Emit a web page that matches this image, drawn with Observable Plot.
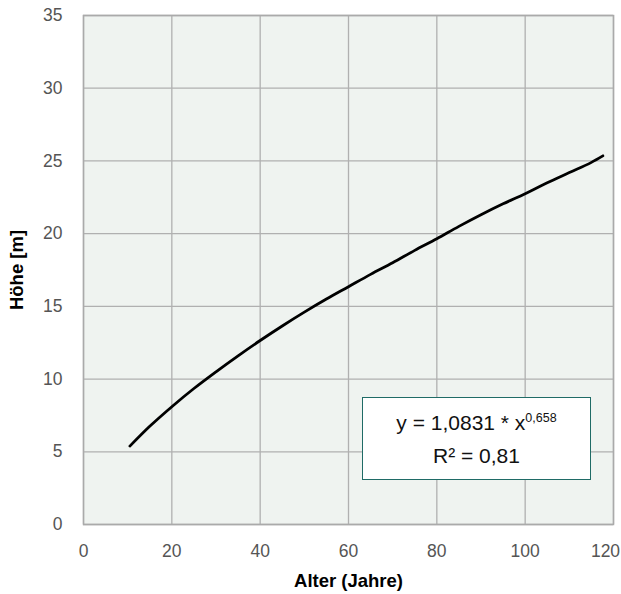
<!DOCTYPE html>
<html>
<head>
<meta charset="utf-8">
<script src="https://cdn.jsdelivr.net/npm/d3@7"></script>
<script src="https://cdn.jsdelivr.net/npm/@observablehq/plot@0.6"></script>
<style>
  html, body { margin: 0; padding: 0; background: #ffffff; }
  #wrap { position: relative; width: 621px; height: 594px; font-family: "Liberation Sans", Arial, Helvetica, sans-serif; }
  #eq {
    position: absolute; left: 362px; top: 397px; width: 227px; height: 81px;
    background: #ffffff; border: 1px solid #1f6b66;
    display: flex; flex-direction: column; align-items: center; justify-content: center;
    font-size: 21px; color: #111; line-height: 29px;
  }
  #eq sup { font-size: 12.5px; vertical-align: 0; position: relative; top: -8px; }
</style>
</head>
<body>
<div id="wrap"></div>
<script>
// Data
const alter = [10.5, 15, 20, 25, 30, 35, 40, 45, 50, 55, 60, 65, 70, 75, 80, 85, 90, 95, 100, 105, 110, 115, 117.6];
const hoehe = [5.39, 6.75, 8.1, 9.35, 10.5, 11.6, 12.65, 13.65, 14.6, 15.5, 16.35, 17.2, 18.0, 18.85, 19.65, 20.5, 21.3, 22.05, 22.75, 23.5, 24.2, 24.9, 25.35];
const xTicks = [0, 20, 40, 60, 80, 100];
const xTickLast = [120];
const yTicks = [0, 5, 10, 15, 20, 25, 30, 35];
const xTitle = "Alter (Jahre)";
const yTitle = "Höhe [m]";

const data = alter.map((a, i) => ({alter: a, hoehe: hoehe[i]}));

const chart = Plot.plot({
  width: 621,
  height: 594,
  marginTop: 15,
  marginBottom: 70,
  marginLeft: 83,
  marginRight: 8,
  style: {fontFamily: '"Liberation Sans", Arial, Helvetica, sans-serif', fontSize: "17px", background: "#ffffff", overflow: "visible"},
  x: {domain: [0, 120]},
  y: {domain: [0, 35]},
  marks: [
    Plot.frame({fill: "#eff3f0", stroke: "none"}),
    Plot.gridX(xTicks.concat(xTickLast), {stroke: "#b0b0b0", strokeOpacity: 1, strokeWidth: 1.3}),
    Plot.gridY(yTicks, {stroke: "#b0b0b0", strokeOpacity: 1, strokeWidth: 1.3}),
    Plot.frame({stroke: "#aaaaaa", strokeWidth: 1.5}),
    Plot.axisX(xTicks, {tickSize: 0, tickPadding: 20, color: "#555", fontSize: 17.5, label: xTitle, labelAnchor: "center", labelOffset: 62, labelArrow: "none"}),
    Plot.axisX(xTickLast, {tickSize: 0, tickPadding: 20, color: "#555", fontSize: 17.5, dx: -8, label: null}),
    Plot.axisY(yTicks, {tickSize: 0, tickPadding: 21, color: "#555", fontSize: 17.5, label: yTitle, labelAnchor: "center", labelOffset: 74, labelArrow: "none"}),
    Plot.line(data, {x: "alter", y: "hoehe", stroke: "#000", strokeWidth: 2.8, curve: "monotone-x"})
  ]
});

// Bold black axis titles
chart.querySelectorAll("[aria-label='x-axis label'], [aria-label='y-axis label']").forEach(g => {
  g.setAttribute("fill", "#000");
  g.setAttribute("font-weight", "bold");
  g.setAttribute("font-size", "18.5px");
  g.style.fontSize = "18.5px";
  g.querySelectorAll("text").forEach(t => {
    t.setAttribute("font-weight", "bold");
    t.setAttribute("font-size", "18.5px");
    t.style.fontSize = "18.5px";
    t.setAttribute("fill", "#000");
  });
});

const wrap = document.getElementById("wrap");
wrap.appendChild(chart);

const eq = document.createElement("div");
eq.id = "eq";
eq.innerHTML = '<div>y = 1,0831 * x<sup>0,658</sup></div><div>R² = 0,81</div>';
wrap.appendChild(eq);
</script>
</body>
</html>
